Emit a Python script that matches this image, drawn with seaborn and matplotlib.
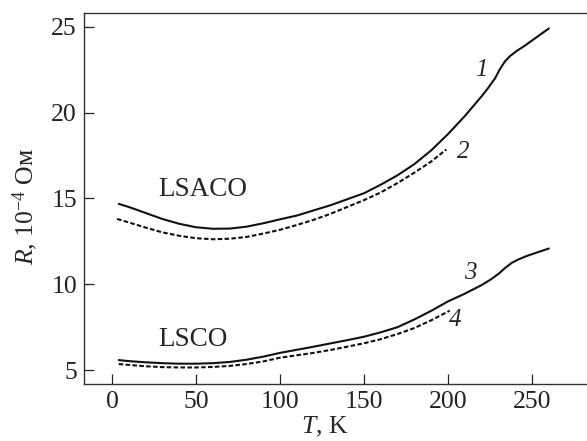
# R(T) curves for LSACO and LSCO
import pandas as pd
import seaborn as sns
import matplotlib
matplotlib.use('Agg')
import matplotlib.pyplot as plt

# curve 1 (LSACO, solid)
T1 = [4, 10, 20, 30, 40, 50, 60, 70, 80, 90, 100, 110, 120, 130, 140, 150, 160, 170,
      180, 190, 200, 210, 220, 224, 228, 231, 234, 237, 241, 245, 250, 255, 260]
R1 = [14.68, 14.5, 14.15, 13.8, 13.52, 13.32, 13.23, 13.24, 13.35, 13.55, 13.78, 14.0,
      14.3, 14.6, 14.95, 15.3, 15.8, 16.35, 17.0, 17.8, 18.75, 19.8, 20.95, 21.45, 22.0,
      22.55, 23.0, 23.3, 23.6, 23.85, 24.2, 24.55, 24.9]
# curve 2 (LSACO, dashed)
T2 = [3, 10, 20, 30, 40, 50, 60, 70, 80, 90, 100, 110, 120, 130, 140, 150, 160, 170,
      180, 190, 199]
R2 = [13.8, 13.6, 13.3, 13.02, 12.82, 12.68, 12.62, 12.65, 12.75, 12.95, 13.17, 13.45,
      13.75, 14.1, 14.5, 14.9, 15.35, 15.9, 16.5, 17.15, 17.85]
# curve 3 (LSCO, solid)
T3 = [4, 10, 20, 30, 40, 50, 60, 70, 80, 90, 100, 110, 120, 130, 140, 150, 160, 170,
      180, 190, 200, 210, 220, 225, 230, 234, 238, 242, 247, 253, 260]
R3 = [5.58, 5.52, 5.45, 5.4, 5.37, 5.37, 5.4, 5.47, 5.6, 5.78, 6.0, 6.18, 6.36, 6.55,
      6.74, 6.94, 7.2, 7.5, 7.95, 8.45, 9.0, 9.45, 9.95, 10.25, 10.6, 10.95, 11.25, 11.45,
      11.65, 11.85, 12.08]
# curve 4 (LSCO, dashed)
T4 = [4, 10, 20, 30, 40, 50, 60, 70, 80, 90, 100, 110, 120, 130, 140, 150, 160, 170,
      180, 190, 201]
R4 = [5.35, 5.3, 5.22, 5.17, 5.15, 5.15, 5.18, 5.24, 5.35, 5.5, 5.72, 5.86, 6.0, 6.17,
      6.36, 6.56, 6.8, 7.1, 7.45, 7.9, 8.46]

x_ticks = [0, 50, 100, 150, 200, 250]
y_ticks = [5, 10, 15, 20, 25]

sns.set_theme(style='ticks')
plt.rcParams['font.family'] = ['Liberation Serif', 'DejaVu Serif']
plt.rcParams['mathtext.fontset'] = 'custom'
plt.rcParams['mathtext.rm'] = 'Liberation Serif'
plt.rcParams['mathtext.it'] = 'Liberation Serif:italic'

fig = plt.figure(figsize=(5.87, 4.41), dpi=100)
ax = fig.add_axes([0.143, 0.129, 0.857, 0.8415])

dash = (0, (2.2, 1.1))
curves = [(T1, R1, '-'), (T2, R2, dash), (T3, R3, '-'), (T4, R4, dash)]
for T, R, ls in curves:
    df = pd.DataFrame({'T': T, 'R': R})
    sns.lineplot(data=df, x='T', y='R', sort=False, color='#111111',
                 linewidth=1.5, linestyle=ls, ax=ax)

ax.set_xlim(-16.7, 282.7)
ax.set_ylim(4.18, 25.8)
ax.set_xticks(x_ticks)
ax.set_yticks(y_ticks)
ax.tick_params(direction='in', length=7, width=0.9, labelsize=18.5, colors='#222222', pad=5)
for side in ['left', 'bottom', 'top']:
    ax.spines[side].set_linewidth(1.0)
    ax.spines[side].set_color('#333333')
ax.spines['right'].set_visible(False)

ax.set_xlabel('$T$, K', fontsize=18.5)
ax.set_ylabel('$R$, 10$^{-4}$ Ом', fontsize=18.5)
ax.xaxis.set_label_coords(0.478, -0.083)
ax.yaxis.set_label_coords(-0.088, 0.48)

ax.text(54, 15.5, 'LSACO', fontsize=19.5, ha='center', va='center')
ax.text(48, 6.75, 'LSCO', fontsize=19.5, ha='center', va='center')
for num, tx, ry in [('1', 220, 22.5), ('2', 209, 17.7), ('3', 213, 10.65), ('4', 204, 7.9)]:
    ax.text(tx, ry, num, fontsize=18, style='italic', ha='center', va='center')

fig.savefig('out.png', dpi=100)
